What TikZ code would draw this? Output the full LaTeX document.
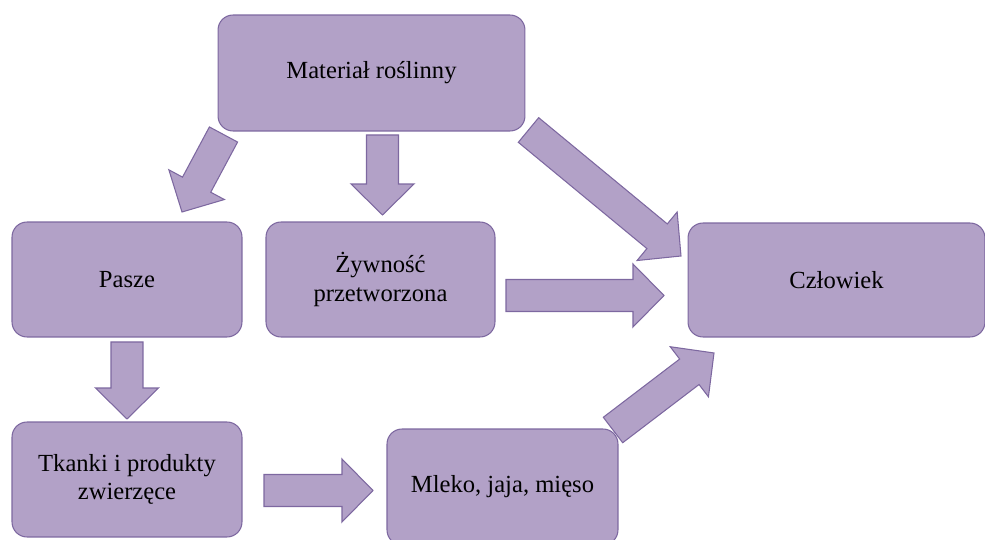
\documentclass[tikz,border=0pt]{standalone}
\usepackage{fontspec}
\setmainfont{Liberation Serif}
\usetikzlibrary{calc}

\definecolor{boxfill}{HTML}{B2A1C7}
\definecolor{boxline}{HTML}{7D68A0}

\tikzset{
  box/.style={draw=boxline, fill=boxfill, line width=0.6pt, rounded corners=0.3cm,
    align=center, font=\fontsize{14}{16}\selectfont, inner sep=0pt},
  blockarrow/.style={draw=boxline, fill=boxfill, line width=0.6pt, line join=miter}
}

% wide arrow from #1 to #2 (shaft 0.64cm, head 1.26cm wide, 0.62cm long)
\newcommand{\blockarrow}[2]{%
  \coordinate (hb) at ($(#2)!0.62cm!(#1)$);
  \draw[blockarrow] ($(#1)!0.32cm!-90:(#2)$) -- ($(hb)!0.32cm!-90:(#2)$)
    -- ($(hb)!0.63cm!-90:(#2)$) -- (#2) -- ($(hb)!0.63cm!90:(#2)$)
    -- ($(hb)!0.32cm!90:(#2)$) -- ($(#1)!0.32cm!90:(#2)$) -- cycle;
}

\begin{document}
\begin{tikzpicture}[x=0.02cm, y=-0.02cm]
    \useasboundingbox (0,0) rectangle (985,540);
    \clip (0,0) rectangle (985,540);
    % boxes
    \node[box, minimum width=6.14cm, minimum height=2.32cm] (mat) at (371.5,73) {Materiał roślinny};
    \node[box, minimum width=4.6cm, minimum height=2.3cm] (pasze) at (127,279.5) {Pasze};
    \node[box, minimum width=4.58cm, minimum height=2.3cm] (zyw) at (380.5,279.5) {Żywność\\przetworzona};
    \node[box, minimum width=5.94cm, minimum height=2.28cm] (czl) at (836.5,280) {Człowiek};
    \node[box, minimum width=4.6cm, minimum height=2.3cm] (tkanki) at (127,479.5) {Tkanki i produkty\\zwierzęce};
    \node[box, minimum width=4.62cm, minimum height=2.32cm] (mleko) at (502.5,487) {Mleko, jaja, mięso};
    % arrow ends
    \coordinate (matP) at (223.5,134.5);  \coordinate (paszeT) at (182,212);
    \coordinate (matZ) at (382.5,135);    \coordinate (zywT) at (382.5,215);
    \coordinate (matC) at (528.5,130);    \coordinate (czlT1) at (681,256);
    \coordinate (zywC) at (506,295.5);    \coordinate (czlT2) at (664,295.5);
    \coordinate (paszeK) at (127,342);    \coordinate (tkankiT) at (127,419);
    \coordinate (tkankiM) at (264,490.5); \coordinate (mlekoT) at (373,490.5);
    \coordinate (mlekoC) at (613,430);    \coordinate (czlT3) at (714,353);
    % arrows
    \blockarrow{matP}{paszeT}
    \blockarrow{matZ}{zywT}
    \blockarrow{matC}{czlT1}
    \blockarrow{zywC}{czlT2}
    \blockarrow{paszeK}{tkankiT}
    \blockarrow{tkankiM}{mlekoT}
    \blockarrow{mlekoC}{czlT3}
\end{tikzpicture}
\end{document}
